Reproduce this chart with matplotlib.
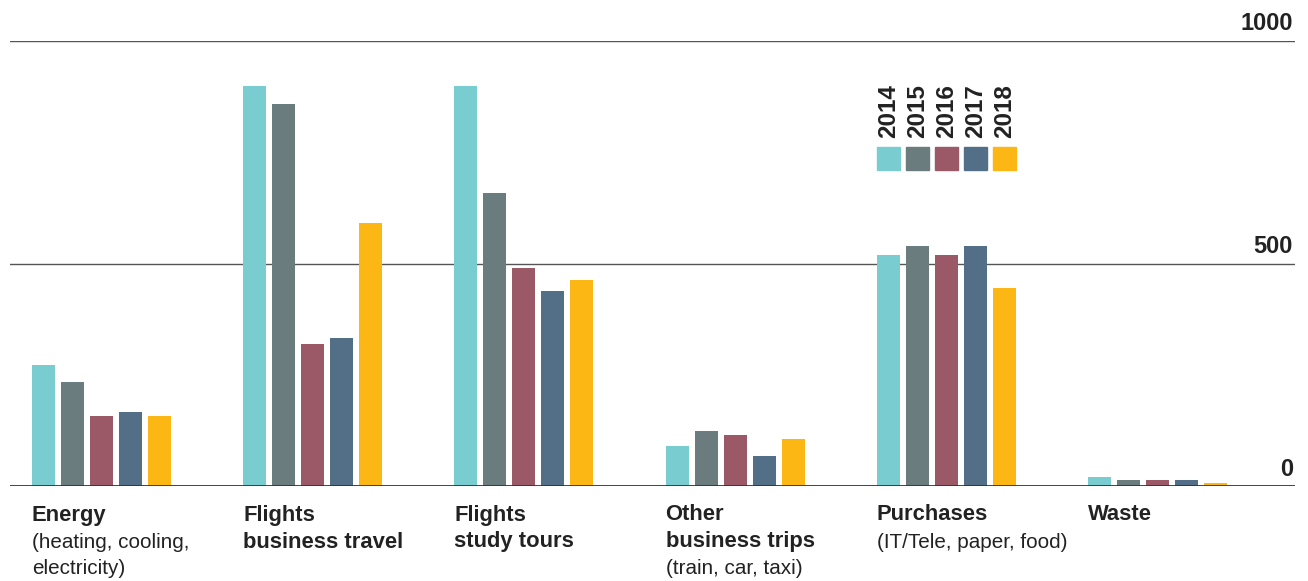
import matplotlib
matplotlib.use("Agg")
import matplotlib.pyplot as plt
from matplotlib.patches import Rectangle
import numpy as np

plt.rcParams['font.family'] = ['Liberation Sans', 'DejaVu Sans']

categories_bold = ["Energy", "Flights\nbusiness travel", "Flights\nstudy tours",
                   "Other\nbusiness trips", "Purchases", "Waste"]
categories_sub = ["(heating, cooling,\nelectricity)", "", "", "(train, car, taxi)",
                  "(IT/Tele, paper, food)", ""]
years = ["2014", "2015", "2016", "2017", "2018"]
v2014 = [271, 899, 899, 90, 518, 20]
v2015 = [233, 859, 659, 123, 540, 13]
v2016 = [157, 318, 489, 114, 518, 13]
v2017 = [166, 332, 439, 67, 540, 13]
v2018 = [157, 592, 464, 105, 444, 7]
series = [v2014, v2015, v2016, v2017, v2018]
colors = ["#79CDD0", "#6A7C7D", "#9B5866", "#536F88", "#FDB714"]
yticks = [0, 500, 1000]

W, H = 1308, 581
fig = plt.figure(figsize=(W/100, H/100), dpi=100)
ax = fig.add_axes([10/W, 1-486/H, (1295-10)/W, (486-41)/H])

pitch = 29/211.2
bw = 23/211.2
x = np.arange(len(categories_bold))
for j, (vals, c) in enumerate(zip(series, colors)):
    ax.bar(x + (j-2)*pitch, vals, width=bw, color=c, zorder=2)

ax.set_xlim(-0.433, 5.651)
ax.set_ylim(0, 1000)
for s in ax.spines.values():
    s.set_visible(False)
ax.set_xticks([]); ax.set_yticks([])

for t in yticks:
    if t == 0:
        ax.axhline(t, color="#333333", lw=2.0, zorder=3)
    else:
        ax.axhline(t, color="#555555", lw=1.0, zorder=1)
    ax.annotate(str(t), xy=(1.0, t), xycoords=('axes fraction', 'data'),
                xytext=(-2, 17), textcoords='offset pixels', ha='right', va='center',
                fontsize=17, fontweight='bold', color='#222222')

# legend aligned with Purchases bars
gi = 4
for j, (yr, c) in enumerate(zip(years, colors)):
    cx = gi + (j-2)*pitch
    ax.add_patch(Rectangle((cx - bw/2, 711), bw, 51, color=c, clip_on=False))
    ax.text(cx, 783, yr, rotation=90, ha='center', va='bottom', fontsize=17.5,
            fontweight='bold', color='#222222')

# category labels, one text per line
line_y = [515, 542, 569]
for i, (b, s) in enumerate(zip(categories_bold, categories_sub)):
    left = i - 2*pitch - bw/2
    lines = [(ln, 'bold') for ln in b.split("\n")]
    if s:
        lines += [(ln, 'normal') for ln in s.split("\n")]
    for k, (ln, wt) in enumerate(lines):
        ax.annotate(ln, xy=(left, 0), xycoords='data',
                    xytext=(0, -(line_y[k] - 486)), textcoords='offset pixels',
                    ha='left', va='center_baseline' if False else 'center',
                    fontsize=15.8 if wt == 'bold' else 14.9, fontweight=wt,
                    color='#222222')

fig.savefig("out.png", dpi=100)
